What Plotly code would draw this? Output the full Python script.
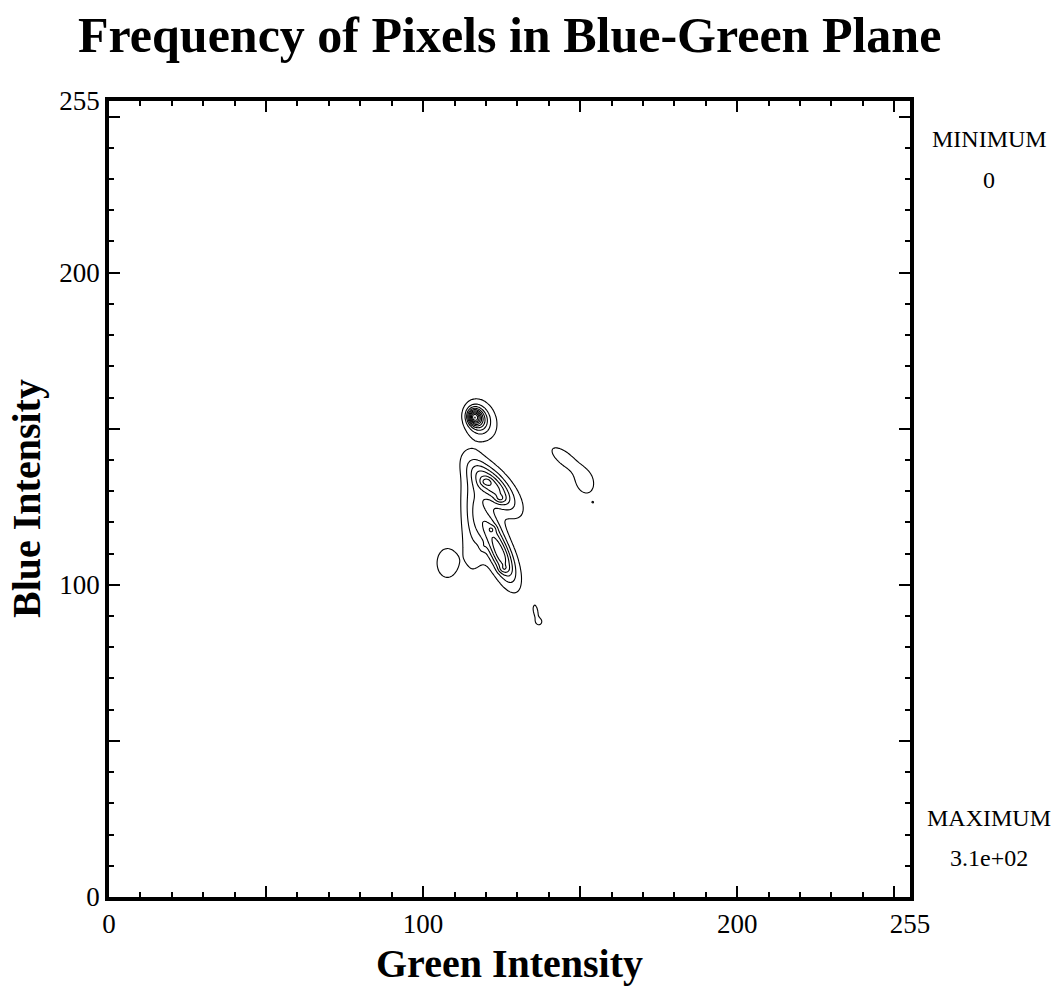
import numpy as np
import plotly.graph_objects as go

# Intensity axes (8-bit channels)
green_values = np.arange(0, 255.5, 0.5)
blue_values = np.arange(0, 255.5, 0.5)

# Pixel-count clusters in the blue-green plane:
# centre, spread along / across the cluster's long axis, orientation, peak count
cluster_green = [116.2, 117.3, 118.5,
                 122.3, 117.5, 124.8, 115.0, 121.5,
                 120.0, 124.5, 125.5, 122.0, 119.0,
                 107.7, 145.0, 151.4, 154.0,
                 135.8, 136.9]
cluster_blue = [153.8, 153.3, 152.5,
                131.5, 124.0, 109.5, 119.0, 118.5,
                133.0, 127.5, 105.0, 118.0, 112.0,
                107.0, 140.5, 133.0, 126.5,
                91.6, 88.2]
cluster_sigma_long = [1.6, 2.6, 4.0,
                      6.0, 9.0, 6.0, 12.0, 4.5,
                      1.2, 1.2, 1.2, 1.0, 1.0,
                      4.4, 4.6, 3.5, 0.4,
                      2.2, 1.0]
cluster_sigma_short = [1.3, 2.0, 3.0,
                       2.6, 2.5, 2.2, 2.2, 2.4,
                       0.9, 0.9, 0.9, 0.8, 0.7,
                       3.1, 1.9, 2.5, 0.4,
                       0.8, 1.0]
cluster_angle_deg = [100, 105, 110,
                     -48, 95, 112, 92, 105,
                     0, 0, 0, 0, 90,
                     90, -39, -70, 0,
                     100, 0]
cluster_peak = [150, 110, 50,
                150, 65, 150, 22, 50,
                35, 35, 30, 25, 20,
                26, 26, 26, 16,
                22, 20]

# Contour levels
level_start, level_step, level_end = 15, 30, 300
count_min, count_max = "0", "3.1e+02"

G, B = np.meshgrid(green_values, blue_values)
counts = np.zeros(G.shape, dtype=float)
for gx, by, sl, ss, ang, pk in zip(cluster_green, cluster_blue, cluster_sigma_long,
                                   cluster_sigma_short, cluster_angle_deg, cluster_peak):
    t = np.deg2rad(ang)
    du = (G - gx) * np.cos(t) + (B - by) * np.sin(t)
    dv = -(G - gx) * np.sin(t) + (B - by) * np.cos(t)
    counts += pk * np.exp(-0.5 * ((du / sl) ** 2 + (dv / ss) ** 2))

serif = "Liberation Serif"

fig = go.Figure(go.Contour(
    x=green_values, y=blue_values, z=counts,
    contours=dict(start=level_start, end=level_end, size=level_step, coloring="lines"),
    colorscale=[[0, "black"], [1, "black"]],
    showscale=False,
    line=dict(width=1.1, color="black"),
    hoverinfo="skip",
))

major_vals = [0, 50, 100, 150, 200, 250, 255]
major_text = ["0", "", "100", "", "200", "", "255"]

axis_common = dict(
    range=[0, 255],
    tickvals=major_vals,
    ticktext=major_text,
    ticks="inside",
    ticklen=11,
    tickwidth=1.5,
    tickcolor="black",
    showline=True,
    linewidth=3.5,
    linecolor="black",
    mirror="ticks",
    showgrid=False,
    zeroline=False,
    tickfont=dict(family=serif, size=27, color="black"),
    minor=dict(dtick=10, tick0=0, ticks="inside", ticklen=5, tickwidth=1.5,
               tickcolor="black", showgrid=False),
)

fig.update_layout(
    width=1057,
    height=990,
    margin=dict(l=109, r=147, t=101, b=93),
    paper_bgcolor="white",
    plot_bgcolor="white",
    xaxis=dict(**axis_common),
    yaxis=dict(**axis_common),
    showlegend=False,
    font=dict(family=serif, color="black"),
)

annotations = [
    dict(text="<b>Frequency of Pixels in Blue-Green Plane</b>", x=0.5, y=1,
         xref="paper", yref="paper", xanchor="center", yanchor="bottom", yshift=36,
         showarrow=False, font=dict(family=serif, size=50, color="black")),
    dict(text="<b>Green Intensity</b>", x=0.5, y=0, xref="paper", yref="paper",
         xanchor="center", yanchor="top", yshift=-42, showarrow=False,
         font=dict(family=serif, size=40, color="black")),
    dict(text="<b>Blue Intensity</b>", x=0, y=0.5, xref="paper", yref="paper",
         xanchor="center", yanchor="middle", xshift=-83, textangle=-90, showarrow=False,
         font=dict(family=serif, size=40, color="black")),
    dict(text="MINIMUM", x=1, y=1, xref="paper", yref="paper", xanchor="center",
         yanchor="middle", xshift=79, yshift=-38, showarrow=False,
         font=dict(family=serif, size=24, color="black")),
    dict(text=count_min, x=1, y=1, xref="paper", yref="paper", xanchor="center",
         yanchor="middle", xshift=79, yshift=-79, showarrow=False,
         font=dict(family=serif, size=24, color="black")),
    dict(text="MAXIMUM", x=1, y=0, xref="paper", yref="paper", xanchor="center",
         yanchor="middle", xshift=79, yshift=79, showarrow=False,
         font=dict(family=serif, size=24, color="black")),
    dict(text=count_max, x=1, y=0, xref="paper", yref="paper", xanchor="center",
         yanchor="middle", xshift=79, yshift=39, showarrow=False,
         font=dict(family=serif, size=24, color="black")),
]
fig.update_layout(annotations=annotations)

fig.write_html("out.html")
